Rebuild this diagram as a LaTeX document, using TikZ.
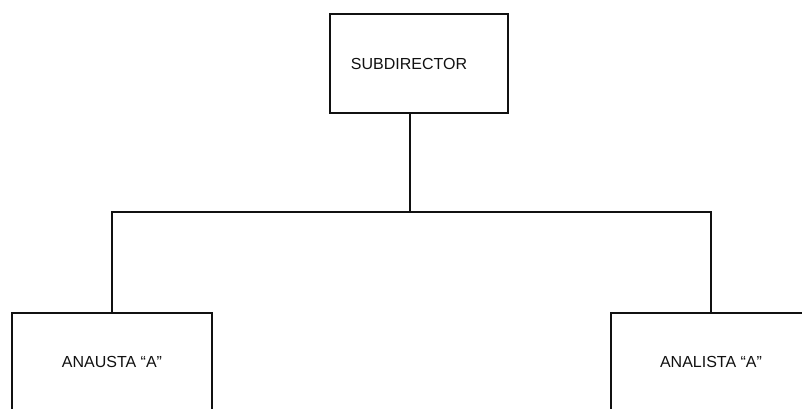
\documentclass[tikz,border=0pt]{standalone}
\usepackage{fontspec}
\setmainfont{Liberation Sans}
\usepackage{tikz}
\usetikzlibrary{positioning, calc}
\definecolor{inkblack}{HTML}{111111}

\begin{document}
\begin{tikzpicture}[
  x=1pt, y=-1pt,
  every node/.style={font=\fontsize{16}{19}\selectfont, text=inkblack},
  orgbox/.style={rectangle, draw=inkblack, line width=1.5pt, inner sep=0pt},
  orgline/.style={draw=inkblack, line width=1.4pt}
]
\clip (0,0) rectangle (802,408);
\fill[white] (0,0) rectangle (802,408);
% top box
\node[orgbox, minimum width=178pt, minimum height=99pt,
  label={[xshift=-10pt]center:SUBDIRECTOR}] (sub) at (419,63.5) {};
% bottom boxes
\node[orgbox, minimum width=200pt, minimum height=98pt] (ana1) at (112,362) {ANAUSTA “A”};
\node[orgbox, minimum width=200pt, minimum height=98pt] (ana2) at (711,362) {ANALISTA “A”};
% connectors
\coordinate (hub) at (410,212);
\draw[orgline] (sub.south -| hub) -- (hub);
\draw[orgline] (ana1.north) |- (hub) -| (ana2.north);
\end{tikzpicture}
\end{document}
